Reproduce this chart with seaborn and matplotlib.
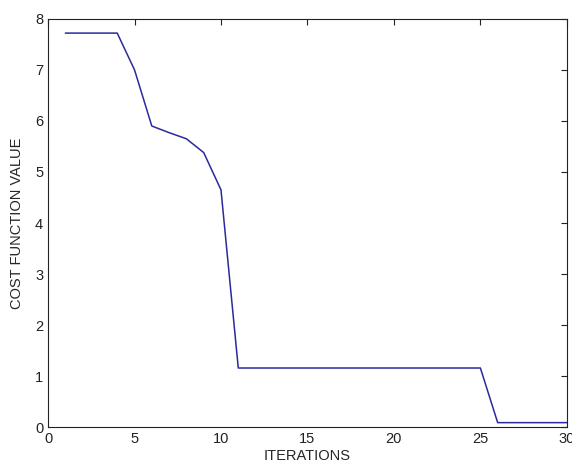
import numpy as np
import pandas as pd
import seaborn as sns
import matplotlib.pyplot as plt

iterations = list(range(1, 31))
cost = [7.72, 7.72, 7.72, 7.72, 7.0, 5.9, 5.77, 5.65, 5.38, 4.65,
        1.16, 1.16, 1.16, 1.16, 1.16, 1.16, 1.16, 1.16, 1.16, 1.16,
        1.16, 1.16, 1.16, 1.16, 1.16, 0.09, 0.09, 0.09, 0.09, 0.09]

df = pd.DataFrame({'iter': iterations, 'cost': cost})

sns.set_style('white')
plt.rcParams['font.family'] = ['Liberation Sans', 'DejaVu Sans']

fig = plt.figure(figsize=(5.72, 4.70), dpi=100)
ax = fig.add_axes([0.084, 0.091, 0.907, 0.869])
sns.lineplot(data=df, x='iter', y='cost', color='#2a2a9c', linewidth=1.1, ax=ax)

ax.set_xlim(0, 30)
ax.set_ylim(0, 8)
ax.set_xticks(range(0, 31, 5))
ax.set_yticks(range(0, 9))
ax.tick_params(direction='in', length=4, labelsize=10.5, colors='#222222',
               top=True, right=True, width=0.8)
for s in ax.spines.values():
    s.set_color('#222222')
    s.set_linewidth(0.8)
ax.set_xlabel('ITERATIONS', fontsize=10.5, labelpad=2)
ax.set_ylabel('COST FUNCTION VALUE', fontsize=10.5, labelpad=8)

fig.savefig('out.png', dpi=100)
